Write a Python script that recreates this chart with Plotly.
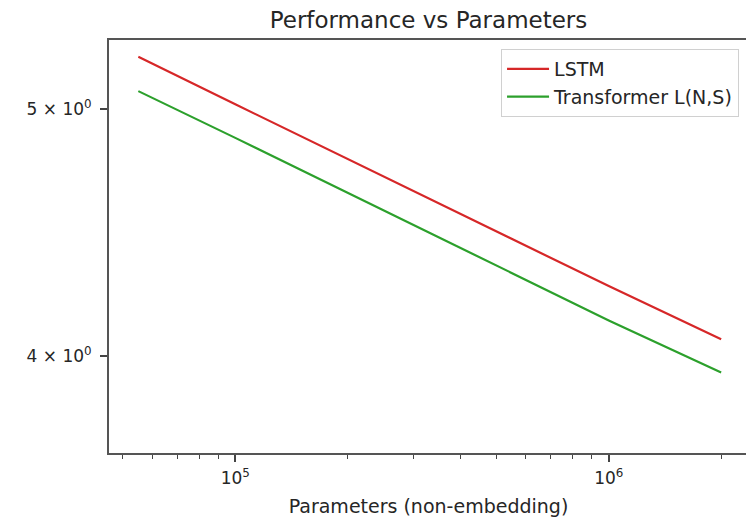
import math
import plotly.graph_objects as go

params = [5.5e4, 1e5, 1e6, 2e6]
lstm_loss = [5.24, 5.02, 4.26, 4.06]
transformer_loss = [5.08, 4.87, 4.13, 3.94]

series_names = ["LSTM", "Transformer L(N,S)"]
series_colors = ["#d62728", "#2ca02c"]

x_tickvals = [1e5, 1e6]
x_ticktext = ["10<sup>5</sup>", "10<sup>6</sup>"]
x_minor = [5e4, 6e4, 7e4, 8e4, 9e4, 2e5, 3e5, 4e5, 5e5, 6e5, 7e5, 8e5, 9e5, 2e6]
y_tickvals = [4, 5]
y_ticktext = ["4 × 10<sup>0</sup>", "5 × 10<sup>0</sup>"]

font_family = "DejaVu Sans"

# page body has an 8px margin, so the figure is sized to fit the window
W, H = 746, 509
ML, MR, MT, MB = 101, 6, 32, 64

fig = go.Figure()
for name, ys, col in zip(series_names, [lstm_loss, transformer_loss], series_colors):
    fig.add_trace(go.Scatter(x=params, y=ys, mode="lines", name=name,
                             line=dict(color=col, width=2.2)))

fig.update_layout(
    width=W, height=H,
    margin=dict(l=ML, r=MR, t=MT, b=MB, autoexpand=False),
    paper_bgcolor="white", plot_bgcolor="white",
    font=dict(family=font_family, size=17, color="#262626"),
    title=dict(text="Performance vs Parameters", x=(ML + W - MR) / 2 / W, xanchor="center",
               y=1 - 12 / H, yanchor="middle", font=dict(size=23)),
    showlegend=True,
    legend=dict(x=0.986, y=0.978, xanchor="right", yanchor="top",
                bordercolor="#d0d0d0", borderwidth=1, bgcolor="rgba(255,255,255,0.8)",
                font=dict(size=19), itemwidth=42, tracegroupgap=2),
    xaxis=dict(type="log", range=[math.log10(4.59e4), math.log10(2.36e6)],
               automargin=False,
               tickvals=x_tickvals, ticktext=x_ticktext,
               ticks="outside", ticklen=7, tickwidth=1.5, tickcolor="#444",
               ticklabelstandoff=2,
               minor=dict(tickvals=x_minor, ticks="outside", ticklen=4, tickwidth=1.2, tickcolor="#444"),
               showgrid=False, zeroline=False,
               showline=True, linecolor="#555", linewidth=2, mirror=True,
               title=dict(text="Parameters (non-embedding)", font=dict(size=19), standoff=14),
               tickfont=dict(size=17)),
    yaxis=dict(type="log", range=[math.log10(3.664), math.log10(5.32)],
               automargin=False,
               tickvals=y_tickvals, ticktext=y_ticktext,
               ticks="outside", ticklen=7, tickwidth=1.5, tickcolor="#444",
               ticklabelstandoff=5,
               showgrid=False, zeroline=False,
               showline=True, linecolor="#555", linewidth=2, mirror=True,
               tickfont=dict(size=17)),
)

fig.write_html("out.html")
